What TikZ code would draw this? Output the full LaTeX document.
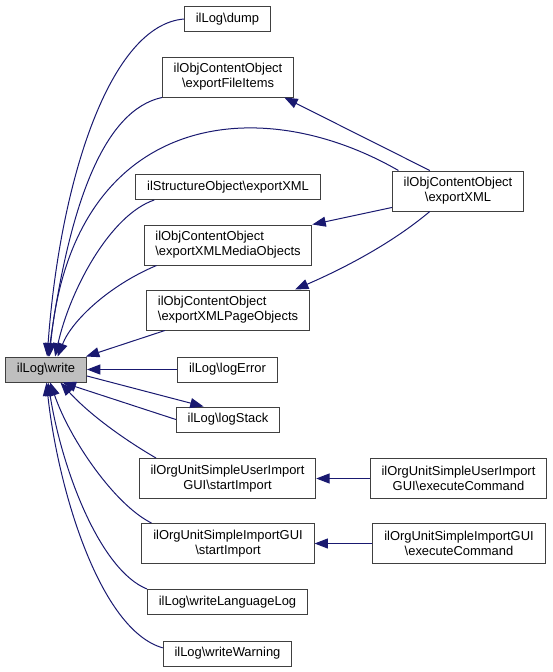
\documentclass[tikz,border=0pt]{standalone}
\usepackage{fontspec}
\setmainfont{Liberation Sans}
\usetikzlibrary{arrows.meta}
\definecolor{Edge}{HTML}{191970}
\definecolor{Frame}{HTML}{404040}
\definecolor{Current}{HTML}{BFBFBF}
\tikzset{
  callarrow/.style={-{Triangle[length=10pt,width=7.5pt]}, line width=0.75pt, draw=Edge},
  fnbox/.style={draw=Frame, fill=white, line width=0.75pt, inner xsep=8.5pt, inner ysep=2pt, minimum height=18.75pt, font=\fontsize{9.7}{11.2}\selectfont},
  fnboxtwo/.style={fnbox, minimum height=30pt, align=center},
}

\begin{document}
\begin{tikzpicture}[x=0.75pt,y=-0.75pt]
\useasboundingbox (0,0) rectangle (553,672);

% function under inspection
\node[fnbox,fill=Current] (write) at (46,369.5) {ilLog\textbackslash write};

% direct callers
\node[fnbox] (dump) at (227.5,19) {ilLog\textbackslash dump};
\node[fnboxtwo] (fileitems) at (228,77) {ilObjContentObject\\\textbackslash exportFileItems};
\node[fnbox] (structxml) at (228,187) {ilStructureObject\textbackslash exportXML};
\node[fnboxtwo,align=left] (mediaobj) at (228,245) {ilObjContentObject\\\textbackslash exportXMLMediaObjects};
\node[fnboxtwo,align=left] (pageobj) at (228,310) {ilObjContentObject\\\textbackslash exportXMLPageObjects};
\node[fnbox] (logerror) at (227.5,369.5) {ilLog\textbackslash logError};
\node[fnbox] (logstack) at (228,419.5) {ilLog\textbackslash logStack};
\node[fnboxtwo] (userstart) at (227.5,478.5) {ilOrgUnitSimpleUserImport\\GUI\textbackslash startImport};
\node[fnboxtwo] (simplestart) at (228,543.5) {ilOrgUnitSimpleImportGUI\\\textbackslash startImport};
\node[fnbox] (langlog) at (227.5,602) {ilLog\textbackslash writeLanguageLog};
\node[fnbox] (warning) at (227.5,653.5) {ilLog\textbackslash writeWarning};

% second level callers
\node[fnboxtwo] (exportxml) at (458,191) {ilObjContentObject\\\textbackslash exportXML};
\node[fnboxtwo] (userexec) at (458.5,478.5) {ilOrgUnitSimpleUserImport\\GUI\textbackslash executeCommand};
\node[fnboxtwo] (simpleexec) at (459,543.5) {ilOrgUnitSimpleImportGUI\\\textbackslash executeCommand};

% calls into ilLog\write, upper side
\draw[callarrow] (dump.west) .. controls (110,25) and (60,180) .. (write.85);
\draw[callarrow] (fileitems.south west) .. controls (105,110) and (70,200) .. (write.80);
\draw[callarrow] (exportxml.161) .. controls (255,88) and (72,115) .. (write.75);
\draw[callarrow] (structxml.190) .. controls (110,215) and (70,290) .. (write.55);
\draw[callarrow] (mediaobj.196) .. controls (110,285) and (72,320) .. (write.48);
\draw[callarrow] (pageobj.198) -- (write.18);
\draw[callarrow] (logerror.west) -- (write.east);

% calls into ilLog\write, lower side
\draw[callarrow] (logstack.west) -- (write.-38);
\draw[callarrow] (write.-9) -- (logstack.152);
\draw[callarrow] (userstart.164) .. controls (125,440) and (90,415) .. (write.-42);
\draw[callarrow] (simplestart.165) .. controls (115,505) and (70,440) .. (write.-72);
\draw[callarrow] (langlog.north west) .. controls (100,570) and (62,470) .. (write.-81);
\draw[callarrow] (warning.175) .. controls (100,630) and (58,490) .. (write.-88);

% second level
\draw[callarrow] (exportxml.144) -- (fileitems.-20);
\draw[callarrow] (exportxml.194) -- (mediaobj.north east);
\draw[callarrow] (exportxml.216) .. controls (390,245) and (340,270) .. (pageobj.17);
\draw[callarrow] (userexec.west) -- (userstart.east);
\draw[callarrow] (simpleexec.west) -- (simplestart.east);
\end{tikzpicture}
\end{document}
